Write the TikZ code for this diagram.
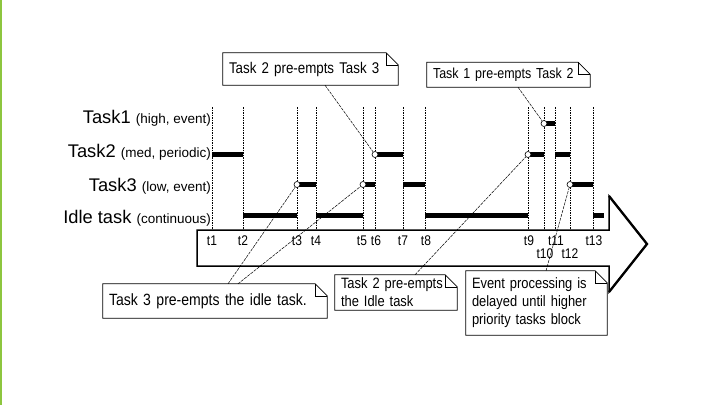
\documentclass[tikz,border=0pt]{standalone}
\usepackage{fontspec}
\setmainfont{Liberation Sans}
\newfontfamily\narrowfont{Liberation Sans}[FakeStretch=0.86]
\usepackage{tikz}
\usetikzlibrary{positioning}

\definecolor{slidegreen}{RGB}{141,198,63}

\newcommand{\prio}[1]{{\fontsize{13.5}{15}\selectfont #1}}
\newcommand{\notefold}[1]{%
  \draw[line width=0.8pt] (#1.south west) -- (#1.south east)
    -- ([yshift=-12pt]#1.north east) -- ([xshift=-12pt]#1.north east)
    -- (#1.north west) -- cycle;
  \draw[line width=0.6pt] ([xshift=-12pt]#1.north east) |- ([yshift=-12pt]#1.north east);}

\begin{document}
\begin{tikzpicture}[x=1pt,y=-1pt,
    timeline/.style={line width=0.6pt, dash pattern=on 1.5pt off 1pt},
    bar/.style={line width=4.8pt},
    starts/.style={circle, draw, line width=0.6pt, fill=white, minimum size=6pt, inner sep=0pt},
    tlabel/.style={font=\narrowfont\fontsize{14}{15}\selectfont, inner sep=0pt},
    rowlabel/.style={anchor=base east, inner sep=0pt, font=\fontsize{18.3}{20}\selectfont},
    note/.style={align=left, inner xsep=6pt, inner ysep=2pt, font=\narrowfont\fontsize{15}{18}\selectfont},
    leader/.style={line width=0.5pt, dash pattern=on 3pt off 1pt}]

\useasboundingbox (0,0) rectangle (708,405);
\fill[slidegreen] (0,0) rectangle (1.6,405);

% rows
\coordinate (task1) at (0,123.5);
\coordinate (task2) at (0,154.5);
\coordinate (task3) at (0,184.5);
\coordinate (idle)  at (0,215.5);

\node[rowlabel] (lab1) at (211,123.5) {Task1 \prio{(high, event)}};
\node[rowlabel] (lab2) at (211,157) {Task2 \prio{(med, periodic)}};
\node[rowlabel] (lab3) at (211,191) {Task3 \prio{(low, event)}};
\node[rowlabel] (lab4) at (211,223) {Idle task \prio{(continuous)}};

% time axis
\draw[line width=1.5pt, line join=miter] (197,230) -- (609,230) -- (609,196) -- (647,244)
    -- (609,292) -- (609,266) -- (197,266) -- cycle;
\draw[line width=2.3pt, line join=miter] (609,196) -- (647,244) -- (609,292);

\foreach \n/\x in {1/212,2/243,3/297,4/316,5/363,6/375,7/403,
                   8/425,9/528,10/544,11/555,12/570,13/593} {
  \coordinate (t\n) at (\x,230);
  \draw[timeline] (\x,107) -- (t\n);
}
\foreach \n/\x in {1/212,2/243,3/297,4/316,5/362,6/376,7/403,
                   8/426,9/529,11/556,13/594}
  \node[tlabel] (l\n) at (\x,241) {t\n};
\node[tlabel] (l10) at (545,254) {t10};
\node[tlabel] (l12) at (570,254) {t12};

% who runs when
\foreach \r/\a/\b in {task2/1/2, task2/6/7, task2/9/10, task2/11/12,
                      task3/3/4, task3/5/6, task3/7/8, task3/12/13,
                      idle/2/3, idle/4/5, idle/8/9, task1/10/11}
  \draw[bar] (t\a |- \r) -- (t\b |- \r);
\draw[bar] (t13 |- idle) -- ++(11,0);

\node[starts] (c3)  at (t3 |- task3) {};
\node[starts] (c5)  at (t5 |- task3) {};
\node[starts] (c6)  at (t6 |- task2) {};
\node[starts] (c9)  at (t9 |- task2) {};
\node[starts] (c10) at (t10 |- task1) {};
\node[starts] (c12) at (t12 |- task3) {};

% notes
\node[note, text width=163pt, minimum height=32pt, font=\narrowfont\fontsize{15.5}{18}\selectfont]
    (pre23) at (310.5,69) {Task 2 pre-empts Task 3};
\node[note, text width=151pt, minimum height=24.5pt, font=\narrowfont\fontsize{14.5}{18}\selectfont]
    (pre12) at (508.5,74.75) {Task 1 pre-empts Task 2};
\node[note, text width=212pt, minimum height=34pt, font=\narrowfont\fontsize{16.3}{18}\selectfont]
    (pre3i) at (215,301) {Task 3 pre-empts the idle task.};
\node[note, text width=110pt, minimum height=35pt]
    (pre2i) at (396,292.5) {Task 2 pre-empts\\the Idle task};
\node[note, text width=129pt, minimum height=64pt]
    (delay) at (536.5,303) {Event processing is\\delayed until higher\\priority tasks block};

\notefold{pre23}
\notefold{pre12}
\notefold{pre3i}
\notefold{pre2i}
\notefold{delay}

\draw[leader] ([xshift=14.5pt]pre23.south) -- (c6);
\draw[leader] ([xshift=9.5pt]pre12.south) -- (c10);
\draw[leader] ([xshift=13pt]pre3i.north) -- (c3);
\draw[leader] ([xshift=23pt]pre3i.north) -- (c5);
\draw[leader] ([xshift=19pt]pre2i.north) -- (c9);
\draw[leader] ([xshift=9.5pt]delay.north) -- (c12);

\end{tikzpicture}
\end{document}
